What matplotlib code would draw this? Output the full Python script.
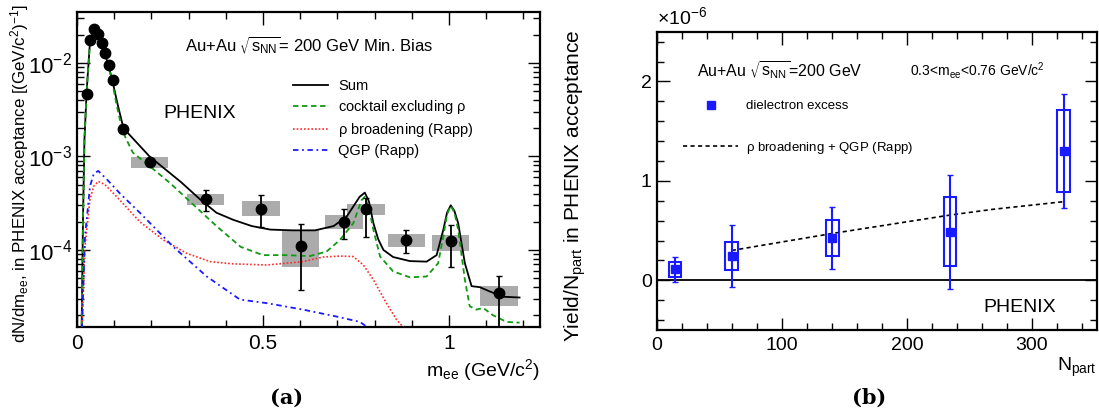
import numpy as np
import matplotlib
matplotlib.use('Agg')
import matplotlib.pyplot as plt
from matplotlib.patches import Rectangle
from matplotlib.ticker import MultipleLocator, FuncFormatter, LogLocator

plt.rcParams['font.family'] = ['Liberation Sans', 'DejaVu Sans']
plt.rcParams['mathtext.default'] = 'regular'

# ---- panel (a): mass spectrum ----
mass_pts = [0.026, 0.035, 0.047, 0.057, 0.066, 0.076, 0.085, 0.096, 0.125, 0.195,
            0.346, 0.495, 0.602, 0.718, 0.777, 0.886, 1.005, 1.135]
yield_pts = [4.7e-3, 1.76e-2, 2.29e-2, 2.04e-2, 1.62e-2, 1.27e-2, 9.4e-3, 6.5e-3, 1.98e-3, 8.7e-4,
             3.5e-4, 2.75e-4, 1.11e-4, 2.0e-4, 2.75e-4, 1.28e-4, 1.25e-4, 3.44e-5]
stat_hi = [4.8e-3, 1.8e-2, 2.33e-2, 2.08e-2, 1.65e-2, 1.3e-2, 9.6e-3, 6.7e-3, 2.05e-3, 9.2e-4,
           4.37e-4, 3.9e-4, 1.9e-4, 2.72e-4, 3.63e-4, 1.62e-4, 1.85e-4, 5.3e-5]
stat_lo = [4.6e-3, 1.72e-2, 2.25e-2, 2.0e-2, 1.59e-2, 1.24e-2, 9.2e-3, 6.3e-3, 1.91e-3, 8.2e-4,
           2.6e-4, 1.74e-4, 3.7e-5, 1.3e-4, 1.39e-4, 9.3e-5, 6.5e-5, 1.2e-5]

# systematic boxes (only where visible)
sys_mass = [0.195, 0.346, 0.495, 0.602, 0.718, 0.777, 0.886, 1.005, 1.135]
sys_hi = [9.8e-4, 4.0e-4, 3.3e-4, 1.64e-4, 2.37e-4, 3.1e-4, 1.48e-4, 1.45e-4, 4.1e-5]
sys_lo = [7.6e-4, 3.0e-4, 2.3e-4, 6.5e-5, 1.68e-4, 2.37e-4, 1.08e-4, 9.8e-5, 2.5e-5]

m_sum = [0.012, 0.016, 0.02, 0.026, 0.035, 0.045, 0.055, 0.065, 0.075, 0.085, 0.095, 0.11,
         0.125, 0.195, 0.28, 0.33, 0.375, 0.42, 0.47, 0.52, 0.58, 0.64, 0.69, 0.725, 0.745,
         0.76, 0.774, 0.785, 0.797, 0.81, 0.824, 0.85, 0.895, 0.94, 0.967, 0.985, 0.995,
         1.005, 1.015, 1.025, 1.043, 1.061, 1.083, 1.11, 1.146, 1.19]
sum_vals = [1e-5, 2e-4, 1.5e-3, 5e-3, 1.7e-2, 2.3e-2, 2.1e-2, 1.6e-2, 1.25e-2, 9.3e-3, 6.5e-3, 3.5e-3,
            2.0e-3, 1.0e-3, 5.3e-4, 3.5e-4, 2.5e-4, 2.1e-4, 1.8e-4, 1.65e-4, 1.62e-4, 1.62e-4, 1.8e-4,
            2.27e-4, 3.0e-4, 3.7e-4, 4.1e-4, 3.3e-4, 1.93e-4, 1.3e-4, 1.0e-4, 8.4e-5, 7.6e-5, 7.5e-5,
            8.8e-5, 1.64e-4, 2.5e-4, 3.0e-4, 2.6e-4, 1.93e-4, 7.2e-5, 4.1e-5, 4.0e-5, 3.6e-5, 3.16e-5, 3.1e-5]

m_cocktail = [0.012, 0.016, 0.02, 0.026, 0.035, 0.045, 0.055, 0.065, 0.075, 0.085, 0.095, 0.105,
              0.115, 0.13, 0.15, 0.2, 0.25, 0.3, 0.375, 0.44, 0.5, 0.56, 0.626, 0.671, 0.707, 0.743,
              0.765, 0.774, 0.785, 0.797, 0.815, 0.85, 0.895, 0.94, 0.971, 0.985, 0.995, 1.005,
              1.015, 1.025, 1.043, 1.056, 1.074, 1.092, 1.119, 1.155, 1.19]
cocktail_vals = [1e-5, 2e-4, 1.5e-3, 5e-3, 1.7e-2, 2.3e-2, 2.1e-2, 1.6e-2, 1.25e-2, 9.2e-3, 6.2e-3, 3.8e-3,
                 2.5e-3, 1.6e-3, 1.1e-3, 7.6e-4, 5.2e-4, 3.4e-4, 1.8e-4, 1.08e-4, 8.8e-5, 8.8e-5, 8.6e-5,
                 9.6e-5, 1.28e-4, 1.93e-4, 3.4e-4, 3.7e-4, 2.8e-4, 1.64e-4, 8.5e-5, 5.9e-5, 5.1e-5, 5.2e-5,
                 7.2e-5, 1.39e-4, 2.4e-4, 2.96e-4, 2.5e-4, 1.64e-4, 4.8e-5, 2.5e-5, 2.3e-5, 2.4e-5, 2.0e-5,
                 1.7e-5, 1.67e-5]

m_rho = [0.012, 0.0215, 0.035, 0.045, 0.057, 0.075, 0.107, 0.169, 0.232, 0.295, 0.358, 0.42,
         0.51, 0.608, 0.662, 0.707, 0.743, 0.77, 0.797, 0.832, 0.859, 0.877, 0.9]
rho_vals = [1e-5, 1.08e-4, 3.5e-4, 4.8e-4, 5.4e-4, 5.0e-4, 3.7e-4, 2.0e-4, 1.28e-4, 9.2e-5, 7.5e-5, 7.1e-5,
            6.9e-5, 7.5e-5, 8.4e-5, 8.6e-5, 8.5e-5, 6.9e-5, 4.8e-5, 2.7e-5, 1.8e-5, 1.5e-5, 1e-6]

m_qgp = [0.012, 0.0215, 0.035, 0.045, 0.057, 0.08, 0.116, 0.169, 0.259, 0.349, 0.438, 0.51,
         0.608, 0.698, 0.761, 0.78, 0.8]
qgp_vals = [1e-5, 1.4e-4, 4.8e-4, 6.5e-4, 7.0e-4, 5.7e-4, 4.0e-4, 2.5e-4, 1.08e-4, 5.2e-5, 2.95e-5, 2.7e-5,
            2.3e-5, 1.94e-5, 1.7e-5, 1.5e-5, 1e-6]

# ---- panel (b): centrality dependence (units of 1e-6) ----
npart = [14.6, 60, 140.5, 234.6, 325.3]
excess = [0.114, 0.247, 0.43, 0.49, 1.30]
ex_stat_lo = [-0.013, -0.066, 0.114, -0.086, 0.724]
ex_stat_hi = [0.234, 0.557, 0.74, 1.057, 1.874]
ex_sys_lo = [0.034, 0.10, 0.247, 0.14, 0.89]
ex_sys_hi = [0.187, 0.387, 0.607, 0.834, 1.714]
model_npart = [60, 140, 235, 269, 325]
model_vals = [0.30, 0.47, 0.657, 0.714, 0.79]

fig = plt.figure(figsize=(10.99, 4.17), dpi=100)
ax1 = fig.add_axes([77 / 1099, 1 - 327 / 417, 463 / 1099, 315 / 417])
ax2 = fig.add_axes([656.7 / 1099, 1 - 330 / 417, 440.3 / 1099, 298.3 / 417])

# panel (a)
for m, lo, hi in zip(sys_mass, sys_lo, sys_hi):
    ax1.add_patch(Rectangle((m - 0.05, lo), 0.1, hi - lo, facecolor='#ababab',
                            edgecolor='none', zorder=1))

ax1.plot(m_sum, sum_vals, color='black', lw=1.3, label='Sum', zorder=3)
ax1.plot(m_cocktail, cocktail_vals, color='#119911', lw=1.3, dashes=(3, 2),
         label=r'cocktail excluding $\rho$', zorder=3)
ax1.plot(m_rho, rho_vals, color='#ff2a2a', lw=1.2, dashes=(1, 1.2),
         label=r'$\rho$ broadening (Rapp)', zorder=3)
ax1.plot(m_qgp, qgp_vals, color='#1a1aff', lw=1.3, dashes=(3, 2, 1, 2),
         label='QGP (Rapp)', zorder=3)

yp = np.array(yield_pts)
yerr = [yp - np.array(stat_lo), np.array(stat_hi) - yp]
ax1.errorbar(mass_pts, yield_pts, yerr=yerr, fmt='o', color='black', ms=7.5,
             elinewidth=1.3, capsize=2, zorder=4)

ax1.set_yscale('log')
ax1.set_xlim(0, 1.245)
ax1.set_ylim(1.5e-5, 0.035)
ax1.xaxis.set_major_locator(MultipleLocator(0.5))
ax1.xaxis.set_minor_locator(MultipleLocator(0.1))
ax1.xaxis.set_major_formatter(FuncFormatter(lambda v, p: '%g' % v))
ax1.yaxis.set_minor_locator(LogLocator(base=10, subs=np.arange(2, 10)))
ax1.tick_params(which='both', direction='in', top=True, right=True, labelsize=15, width=1)
ax1.tick_params(axis='y', labelsize=16)
ax1.tick_params(which='major', length=9)
ax1.tick_params(which='minor', length=5)
ax1.tick_params(axis='x', pad=5)
for s in ax1.spines.values():
    s.set_linewidth(1.6)

ax1.legend(loc='upper left', bbox_to_anchor=((293 - 77) / 463, 1 - (79 - 12) / 315),
           frameon=False, fontsize=10.5, handlelength=2.4, handletextpad=0.7,
           labelspacing=0.35, borderpad=0, borderaxespad=0)
ax1.text((185 - 77) / 463, 1 - (45 - 12) / 315,
         r'Au+Au $\sqrt{s_{NN}}$= 200 GeV Min. Bias', transform=ax1.transAxes,
         fontsize=12, va='center', ha='left')
ax1.text((163 - 77) / 463, 1 - (113 - 12) / 315, 'PHENIX', transform=ax1.transAxes,
         fontsize=14, va='center', ha='left')
ax1.text(1.0, -0.095, r'm$_{ee}$ (GeV/c$^2$)', transform=ax1.transAxes,
         fontsize=14, ha='right', va='top')
fig.text(20 / 1099, 1 - 4 / 417, r'dN/dm$_{ee}$, in PHENIX acceptance [(GeV/c$^2$)$^{-1}$]',
         rotation=90, fontsize=12.2, ha='center', va='top')

# panel (b)
ax2.axhline(0, color='black', lw=1.3, zorder=1)
h_mod = ax2.plot(model_npart, model_vals, color='black', lw=1.2, dashes=(2.5, 2),
                 label=r'$\rho$ broadening + QGP (Rapp)', zorder=2)[0]
for n, lo, hi in zip(npart, ex_sys_lo, ex_sys_hi):
    ax2.add_patch(Rectangle((n - 5, lo), 10, hi - lo, facecolor='none',
                            edgecolor='#1a1aff', lw=1.5, zorder=3))
ex = np.array(excess)
ex_err = [ex - np.array(ex_stat_lo), np.array(ex_stat_hi) - ex]
ax2.errorbar(npart, excess, yerr=ex_err, fmt='s', color='#1a1aff', ms=6,
             elinewidth=1.5, capsize=2, zorder=4)
h_pts = ax2.plot([], [], 's', color='#1a1aff', ms=6, label='dielectron excess')[0]

ax2.set_xlim(0, 352)
ax2.set_ylim(-0.5, 2.5)
ax2.xaxis.set_major_locator(MultipleLocator(100))
ax2.xaxis.set_minor_locator(MultipleLocator(20))
ax2.yaxis.set_major_locator(MultipleLocator(1))
ax2.yaxis.set_minor_locator(MultipleLocator(0.2))
ax2.tick_params(which='both', direction='in', top=True, right=True, labelsize=14, width=1)
ax2.tick_params(which='major', length=9)
ax2.tick_params(which='minor', length=5)
ax2.tick_params(axis='x', pad=5)
for s in ax2.spines.values():
    s.set_linewidth(1.6)

ax2.legend(handles=[h_pts, h_mod], loc='upper left',
           bbox_to_anchor=((683 - 656.7) / 440.3, 1 - (100 - 31.7) / 298.3),
           frameon=False, fontsize=9.5, handlelength=4.2, handletextpad=0.6,
           labelspacing=2.1, borderpad=0, borderaxespad=0)
ax2.text((697 - 656.7) / 440.3, 1 - (70 - 31.7) / 298.3,
         r'Au+Au $\sqrt{s_{NN}}$=200 GeV', transform=ax2.transAxes,
         fontsize=11.5, va='center', ha='left')
ax2.text((910 - 656.7) / 440.3, 1 - (70 - 31.7) / 298.3,
         r'0.3<m$_{ee}$<0.76 GeV/c$^2$', transform=ax2.transAxes,
         fontsize=10, va='center', ha='left')
ax2.text((983 - 656.7) / 440.3, 1 - (307 - 31.7) / 298.3, 'PHENIX', transform=ax2.transAxes,
         fontsize=14, va='center', ha='left')
ax2.text(0, 1.012, r'$\times$10$^{-6}$', transform=ax2.transAxes, fontsize=14,
         ha='left', va='bottom')
ax2.text(1.0, -0.085, r'N$_{part}$', transform=ax2.transAxes,
         fontsize=14, ha='right', va='top')
fig.text(575 / 1099, 1 - 30 / 417, r'Yield/N$_{part}$ in PHENIX acceptance',
         rotation=90, fontsize=15, ha='center', va='top')

fig.text(287 / 1099, 1 - 398 / 417, '(a)', fontsize=15, fontweight='bold',
         family='DejaVu Serif', ha='center', va='center')
fig.text(869 / 1099, 1 - 398 / 417, '(b)', fontsize=15, fontweight='bold',
         family='DejaVu Serif', ha='center', va='center')

fig.savefig('out.png', dpi=100)
